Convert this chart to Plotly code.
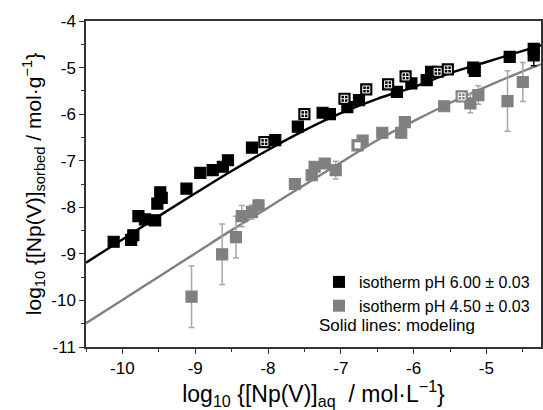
import plotly.graph_objects as go

# pH 6.00 isotherm (filled black squares)
b_x = [-10.12, -9.88, -9.85, -9.78, -9.69, -9.55, -9.52, -9.48, -9.46, -9.12,
       -8.93, -8.76, -8.62, -8.55, -8.22, -7.90, -7.59, -7.25, -7.15, -6.91,
       -6.75, -6.23, -6.03, -5.82, -5.76, -5.18, -5.16, -4.68, -4.35, -4.35]
b_y = [-8.74, -8.70, -8.60, -8.19, -8.26, -8.28, -7.92, -7.68, -7.80, -7.60,
       -7.26, -7.20, -7.13, -6.99, -6.72, -6.56, -6.27, -5.97, -6.00, -5.85,
       -5.70, -5.52, -5.34, -5.27, -5.09, -5.00, -5.07, -4.77, -4.74, -4.60]
b_err = [0, 0, 0, 0, 0, 0, 0, 0, 0, 0,
         0, 0, 0, 0, 0, 0, 0, 0, 0, 0,
         0, 0, 0, 0, 0, 0, 0, 0, 0.22, 0]
# pH 6.00 patterned points
bp_x = [-8.05, -7.50, -6.95, -6.65, -6.35, -6.11, -5.67, -5.53]
bp_y = [-6.60, -6.00, -5.67, -5.47, -5.36, -5.19, -5.09, -5.04]

# pH 4.50 isotherm (filled gray squares)
g_x = [-9.05, -8.63, -8.44, -8.36, -8.22, -8.13, -7.63, -7.40, -7.36, -7.22,
       -7.07, -6.70, -6.43, -6.17, -6.12, -5.58, -5.22, -5.11, -4.71, -4.50]
g_y = [-9.92, -9.01, -8.64, -8.19, -8.10, -7.96, -7.50, -7.31, -7.13, -7.06,
       -7.20, -6.57, -6.40, -6.40, -6.17, -5.83, -5.77, -5.59, -5.72, -5.31]
g_err = [0.66, 0.65, 0.45, 0.23, 0.15, 0.12, 0, 0, 0, 0,
         0.19, 0, 0, 0, 0, 0, 0.2, 0.2, 0.65, 0.42]
# pH 4.50 open / patterned points
go_x = [-6.77]
go_y = [-6.67]
gp_x = [-5.34]
gp_y = [-5.62]

# modeling curves
m_x = [-10.5, -10.0, -9.5, -9.0, -8.5, -8.0, -7.5, -7.0, -6.5, -6.0, -5.5, -5.0, -4.5, -4.25]
mb_y = [-9.19, -8.69, -8.19, -7.70, -7.22, -6.77, -6.35, -5.98, -5.67, -5.42, -5.12, -4.88, -4.64, -4.52]
mg_y = [-10.49, -9.99, -9.49, -8.99, -8.49, -8.01, -7.52, -7.04, -6.56, -6.15, -5.76, -5.41, -5.08, -4.93]

# tick labels
x_ticks = [-10, -9, -8, -7, -6, -5]
x_ticklabels = ["-10", "-9", "-8", "-7", "-6", "-5"]
y_ticks = [-11, -10, -9, -8, -7, -6, -5, -4]
y_ticklabels = ["-11", "-10", "-9", "-8", "-7", "-6", "-5", "-4"]

BLACK = "#000000"
GRAY = "#808080"
ERRC = "#a8a8a8"
FONT = "Liberation Sans, Arial, sans-serif"

fig = go.Figure()

fig.add_trace(go.Scatter(x=m_x, y=mb_y, mode="lines", line=dict(color=BLACK, width=2.4),
                         line_shape="spline", showlegend=False, hoverinfo="skip"))
fig.add_trace(go.Scatter(x=m_x, y=mg_y, mode="lines", line=dict(color=GRAY, width=2.4),
                         line_shape="spline", showlegend=False, hoverinfo="skip"))

fig.add_trace(go.Scatter(
    x=g_x, y=g_y, mode="markers",
    marker=dict(symbol="square", size=11, color=GRAY, line=dict(color=GRAY, width=1.2)),
    error_y=dict(type="data", array=g_err, visible=True, color=ERRC, thickness=1.5, width=3),
    showlegend=False))
fig.add_trace(go.Scatter(
    x=go_x + gp_x, y=go_y + gp_y, mode="markers",
    marker=dict(symbol="square", size=11, color=GRAY, line=dict(color=GRAY, width=1.2)),
    showlegend=False))
fig.add_trace(go.Scatter(
    x=go_x, y=go_y, mode="markers",
    marker=dict(symbol="square", size=6, color="white", line=dict(width=0)),
    showlegend=False))
fig.add_trace(go.Scatter(
    x=gp_x, y=gp_y, mode="markers",
    marker=dict(symbol="square-cross-open", size=7, color="white", line=dict(color="white", width=1)),
    showlegend=False))

fig.add_trace(go.Scatter(
    x=b_x, y=b_y, mode="markers",
    marker=dict(symbol="square", size=11, color=BLACK, line=dict(color=BLACK, width=1.2)),
    error_y=dict(type="data", array=b_err, visible=True, color=BLACK, thickness=1.5, width=3),
    showlegend=False))
fig.add_trace(go.Scatter(
    x=bp_x, y=bp_y, mode="markers",
    marker=dict(symbol="square", size=11, color=BLACK, line=dict(color=BLACK, width=1.2)),
    showlegend=False))
fig.add_trace(go.Scatter(
    x=bp_x, y=bp_y, mode="markers",
    marker=dict(symbol="square-cross-open", size=7, color="white", line=dict(color="white", width=1)),
    showlegend=False))

# legend entries
fig.add_trace(go.Scatter(x=[None], y=[None], mode="markers", name="isotherm pH 6.00 ± 0.03",
                         marker=dict(symbol="square", size=11, color=BLACK)))
fig.add_trace(go.Scatter(x=[None], y=[None], mode="markers", name="isotherm pH 4.50 ± 0.03",
                         marker=dict(symbol="square", size=11, color=GRAY)))

fig.add_annotation(text="Solid lines: modeling", xref="paper", yref="paper",
                   x=(318 - 86) / 457, y=(347 - 325) / 326, xanchor="left", yanchor="middle",
                   showarrow=False, font=dict(family=FONT, size=17, color="black"))

axis_common = dict(showline=True, linecolor="#333333", linewidth=1.5, mirror=True,
                   ticks="outside", ticklen=5, tickwidth=1.2, tickcolor="#333333",
                   showgrid=False, zeroline=False,
                   tickfont=dict(family=FONT, size=17, color="black"))

fig.update_layout(
    width=543, height=410,
    margin=dict(l=86, r=0, t=21, b=63),
    paper_bgcolor="white", plot_bgcolor="white",
    font=dict(family=FONT, color="black"),
    legend=dict(x=(320 - 86) / 457, y=(347 - 265) / 326, xanchor="left", yanchor="top",
                bgcolor="rgba(0,0,0,0)", font=dict(family=FONT, size=16, color="black"),
                tracegroupgap=0, itemsizing="constant"),
    xaxis=dict(range=[-10.5, -4.25], tickvals=x_ticks, ticktext=x_ticklabels,
               minor=dict(ticks="outside", ticklen=3, dtick=0.5, tick0=-10, tickcolor="#333333"),
               title=dict(text="log<sub>10</sub> {[Np(V)]<sub>aq</sub>  / mol·L<sup>−1</sup>}",
                          font=dict(family=FONT, size=23), standoff=14),
               **axis_common),
    yaxis=dict(range=[-11, -4], tickvals=y_ticks, ticktext=y_ticklabels,
               minor=dict(ticks="outside", ticklen=3, dtick=0.5, tick0=-11, tickcolor="#333333"),
               title=dict(text="log<sub>10</sub> {[Np(V)]<sub>sorbed</sub> / mol·g<sup>−1</sup>}",
                          font=dict(family=FONT, size=21), standoff=4),
               **axis_common),
)

fig.write_html("out.html")
